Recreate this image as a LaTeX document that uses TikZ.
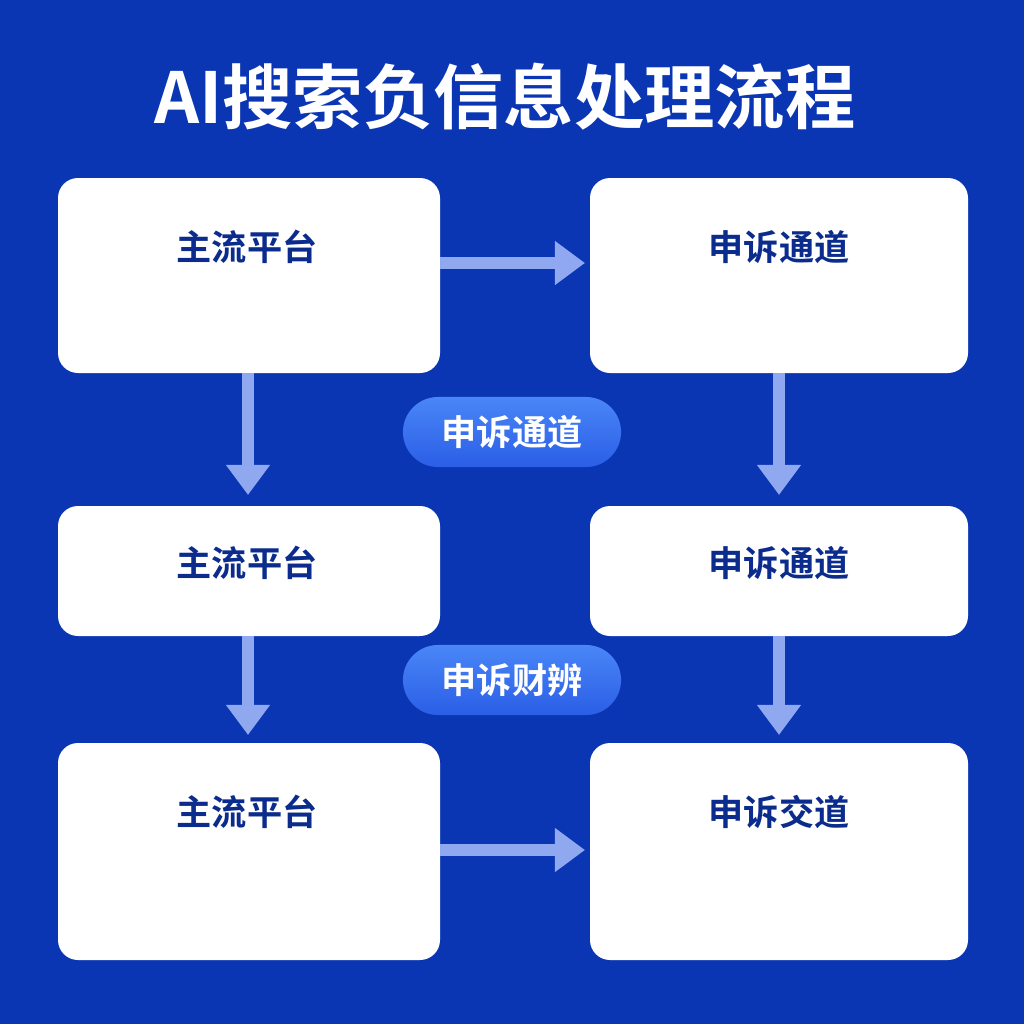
\documentclass[tikz,border=0pt]{standalone}
\usepackage{fontspec}
\newfontfamily\cjk{Noto Sans CJK SC}[BoldFont=* Bold]
\usetikzlibrary{arrows.meta}
\definecolor{bg}{HTML}{0A36B4}
\definecolor{navy}{HTML}{0B2C8C}
\definecolor{arr}{HTML}{8FA8F0}
\definecolor{pt}{HTML}{4A86F7}
\definecolor{pb}{HTML}{2A5EE6}
\begin{document}
\begin{tikzpicture}[x=0.01cm,y=-0.01cm,
 box/.style={fill=white,rounded corners=0.2cm,draw=none},
 lbl/.style={font=\cjk\bfseries\fontsize{10}{12}\selectfont,text=navy},
 pill/.style={rounded corners=0.35cm,minimum width=2.18cm,minimum height=0.7cm,top color=pt,bottom color=pb,text=white,font=\cjk\bfseries\fontsize{10}{12}\selectfont,inner sep=0pt},
 conn/.style={draw=arr,line width=0.12cm,-{Triangle[length=0.3cm,width=0.42cm]}}]
\fill[bg] (0,0) rectangle (1024,1024);
\useasboundingbox (0,0) rectangle (1024,1024);
\node[text=white,font=\cjk\bfseries\fontsize{20}{23}\selectfont] (title) at (505,97) {AI搜索负信息处理流程};
\path[box] (58,178) rectangle (440,373);
\path[box] (590,178) rectangle (968,373);
\path[box] (58,506) rectangle (440,636);
\path[box] (590,506) rectangle (968,636);
\path[box] (58,743) rectangle (440,960);
\path[box] (590,743) rectangle (968,960);
\node[lbl] (t1) at (247,247) {主流平台};
\node[lbl] (t2) at (779,247) {申诉通道};
\node[lbl] (t3) at (247,563) {主流平台};
\node[lbl] (t4) at (779,563) {申诉通道};
\node[lbl] (t5) at (247,812) {主流平台};
\node[lbl] (t6) at (779,812) {申诉交道};
\coordinate (a1s) at (440,263); \coordinate (a1e) at (585,263);
\coordinate (a2s) at (248,373); \coordinate (a2e) at (248,495);
\coordinate (a3s) at (779,373); \coordinate (a3e) at (779,495);
\coordinate (a4s) at (248,636); \coordinate (a4e) at (248,735);
\coordinate (a5s) at (779,636); \coordinate (a5e) at (779,735);
\coordinate (a6s) at (440,850); \coordinate (a6e) at (585,850);
\foreach \i in {1,...,6} {\draw[conn] (a\i s) -- (a\i e);}
\node[pill] (p1) at (512,432) {申诉通道};
\node[pill] (p2) at (512,680) {申诉财辨};
\end{tikzpicture}
\end{document}
